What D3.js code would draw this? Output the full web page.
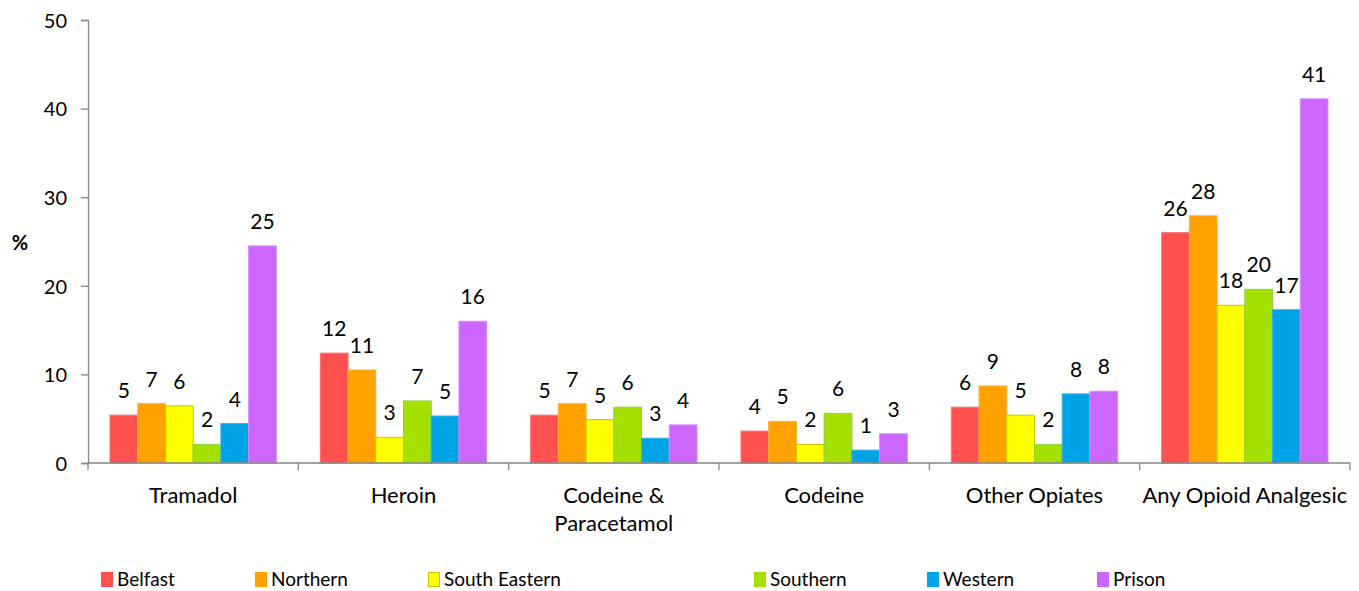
<!DOCTYPE html>
<html><head><meta charset="utf-8">
<script src="https://cdn.jsdelivr.net/npm/d3@7"></script>
<style>body{margin:0;background:#fff}svg{display:block}text{font-family:Lato,"Open Sans",sans-serif;fill:#000}</style>
</head><body><svg id="c" width="1359" height="591"></svg>
<script>
const categories = ["Tramadol", "Heroin", "Codeine & Paracetamol", "Codeine", "Other Opiates", "Any Opioid Analgesic"];
const categoryLines = [["Tramadol"], ["Heroin"], ["Codeine &", "Paracetamol"], ["Codeine"], ["Other Opiates"], ["Any Opioid Analgesic"]];
const seriesNames = ["Belfast", "Northern", "South Eastern", "Southern", "Western", "Prison"];
const belfast = [5.4, 12.4, 5.4, 3.6, 6.3, 26.0];
const northern = [6.7, 10.5, 6.7, 4.7, 8.7, 27.9];
const southEastern = [6.45, 2.9, 4.9, 2.1, 5.4, 17.8];
const southern = [2.1, 7.0, 6.3, 5.6, 2.1, 19.6];
const western = [4.45, 5.3, 2.8, 1.45, 7.8, 17.3];
const prison = [24.5, 16.0, 4.3, 3.3, 8.1, 41.1];
const yTicks = [0, 10, 20, 30, 40, 50];

const seriesValues = [belfast, northern, southEastern, southern, western, prison];
const fills = ["#FF5050", "#FFA200", "#FFFF00", "#A6E000", "#00A3E6", "#CC66FF"];
const strokes = ["#FF7070", "#FFB030", "#C8C800", "#8ED040", "#30B0F0", "#D88CFF"];
const legendX = [101, 255, 428, 754, 927, 1097];

const svg = d3.select("#c");
const x0 = d3.scaleBand().domain(categories).range([88, 1350]);
const x1 = d3.scaleBand().domain(seriesNames).range([22, x0.bandwidth() - 22]);
const y = d3.scaleLinear().domain([0, 50]).range([463, 20]);

// y axis
const ya = svg.append("g").attr("transform", "translate(88,0)")
  .call(d3.axisLeft(y).tickValues(yTicks).tickSize(7).tickPadding(14));
ya.select(".domain").attr("stroke", "#868686").attr("stroke-width", 1.3);
ya.selectAll(".tick line").attr("stroke", "#868686").attr("stroke-width", 1.3);
ya.selectAll(".tick text").style("font-size", "20px").attr("font-family", null).attr("dy", "0.36em");

// bars
seriesNames.forEach((s, si) => {
  const g = svg.append("g");
  g.selectAll("rect").data(categories).join("rect")
    .attr("x", c => x0(c) + x1(s))
    .attr("y", (c, i) => y(seriesValues[si][i]))
    .attr("width", x1.bandwidth())
    .attr("height", (c, i) => y(0) - y(seriesValues[si][i]))
    .attr("fill", fills[si])
    .attr("stroke", strokes[si]).attr("stroke-width", 1);
  g.selectAll("text").data(categories).join("text")
    .attr("x", c => x0(c) + x1(s) + x1.bandwidth() / 2)
    .attr("y", (c, i) => y(seriesValues[si][i]) - 17)
    .attr("text-anchor", "middle")
    .style("font-size", "21px")
    .text((c, i) => Math.round(seriesValues[si][i]));
});

// x axis
const xa = svg.append("g").attr("transform", "translate(0,463)");
xa.append("line").attr("x1", 88).attr("x2", 1350).attr("stroke", "#868686").attr("stroke-width", 1.3);
const bounds = categories.map(c => x0(c)).concat([x0.range()[1]]);
xa.selectAll("line.t").data(bounds).join("line").attr("class", "t")
  .attr("x1", d => d).attr("x2", d => d).attr("y1", 0).attr("y2", 7)
  .attr("stroke", "#868686").attr("stroke-width", 1.3);
categories.forEach((c, i) => {
  const t = svg.append("text").attr("x", x0(c) + x0.bandwidth() / 2).attr("y", 503)
    .attr("text-anchor", "middle").style("font-size", "22px");
  categoryLines[i].forEach((ln, li) => {
    t.append("tspan").attr("x", x0(c) + x0.bandwidth() / 2).attr("dy", li ? 28 : 0).text(ln);
  });
});

// y title
svg.append("text").attr("x", 20).attr("y", 250).attr("text-anchor", "middle")
  .style("font-size", "20px").style("font-weight", "bold").text("%");

// legend
seriesNames.forEach((s, i) => {
  const g = svg.append("g").attr("transform", `translate(${legendX[i]},0)`);
  g.append("rect").attr("x", 0.5).attr("y", 572.5).attr("width", 11).attr("height", 14)
    .attr("fill", fills[i]).attr("stroke", i === 2 ? strokes[i] : fills[i]).attr("stroke-width", 1);
  g.append("text").attr("x", 16).attr("y", 586).style("font-size", "19px").text(s);
});
</script></body></html>
